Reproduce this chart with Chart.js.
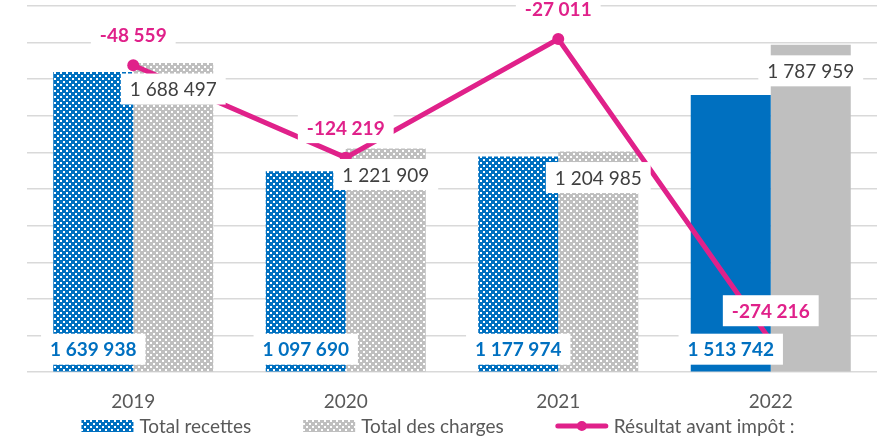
<!DOCTYPE html>
<html>
<head>
<meta charset="utf-8">
<script src="https://cdn.jsdelivr.net/npm/chart.js@4/dist/chart.umd.min.js"></script>
<style>
  html, body { margin: 0; padding: 0; background: #fff; }
  canvas { display: block; }
</style>
</head>
<body>
<canvas id="chart" width="884" height="441"></canvas>
<script>
const years = ['2019', '2020', '2021', '2022'];
const recettes = [1639938, 1097690, 1177974, 1513742];
const charges = [1688497, 1221909, 1204985, 1787959];
const resultat = [-48559, -124219, -27011, -274216];
const seriesNames = ['Total recettes', 'Total des charges', 'Résultat avant impôt :'];

const BLUE = '#0070C0';
const GRAY = '#BFBFBF';
const PINK = '#E0218A';
const TEXT = '#595959';
const FONT = 'Lato, "Open Sans", sans-serif';

// small dotted patterns like the Excel fills
function makePattern(color) {
  const c = document.createElement('canvas');
  c.width = 6; c.height = 6;
  const g = c.getContext('2d');
  g.fillStyle = color;
  g.fillRect(0, 0, 6, 6);
  g.fillStyle = '#fff';
  g.fillRect(0, 0, 2, 2);
  g.fillRect(3, 3, 2, 2);
  return g.createPattern(c, 'repeat');
}
const bluePattern = makePattern(BLUE);
const grayPattern = makePattern(GRAY);

function fmt(v) {
  const s = String(Math.abs(v)).replace(/\B(?=(\d{3})+(?!\d))/g, ' ');
  return (v < 0 ? '-' : '') + s;
}

function labelBox(ctx, text, x, y, font, color) {
  ctx.font = font;
  const w = ctx.measureText(text).width;
  ctx.fillStyle = '#fff';
  ctx.fillRect(x - w / 2 - 9, y - 15.5, w + 18, 31);
  ctx.fillStyle = color;
  ctx.textAlign = 'center';
  ctx.textBaseline = 'middle';
  ctx.fillText(text, x, y + 1);
}

// value labels, drawn on top of bars and line
const valueLabels = {
  id: 'valueLabels',
  afterDatasetsDraw(chart) {
    const ctx = chart.ctx;
    const base = chart.scales.y.getPixelForValue(0);
    ctx.save();
    chart.getDatasetMeta(0).data.forEach((el, i) => {
      labelBox(ctx, fmt(recettes[i]), el.x, base - 23, 'bold 19px ' + FONT, BLUE);
    });
    chart.getDatasetMeta(1).data.forEach((el, i) => {
      labelBox(ctx, fmt(charges[i]), el.x, el.y + 26, '19px ' + FONT, '#404040');
    });
    chart.getDatasetMeta(2).data.forEach((el, i) => {
      labelBox(ctx, fmt(resultat[i]), el.x, el.y - 30, 'bold 19px ' + FONT, PINK);
    });
    ctx.restore();
  }
};

// legend at the bottom: patterned boxes and a line with a dot
const bottomLegend = {
  id: 'bottomLegend',
  afterDraw(chart) {
    const ctx = chart.ctx;
    ctx.save();
    ctx.font = '19px ' + FONT;
    const keyW = 52, gap = 6, space = 52;
    const widths = seriesNames.map(n => keyW + gap + ctx.measureText(n).width);
    const total = widths.reduce((a, b) => a + b, 0) + space * (widths.length - 1);
    let x = (chart.width - total) / 2 - 4;
    const y = 426;
    seriesNames.forEach((name, i) => {
      if (i === 0 || i === 1) {
        ctx.fillStyle = i === 0 ? bluePattern : grayPattern;
        ctx.fillRect(x, y - 6, keyW, 12);
      } else {
        ctx.strokeStyle = PINK;
        ctx.lineWidth = 5;
        ctx.lineCap = 'round';
        ctx.beginPath();
        ctx.moveTo(x + 2, y);
        ctx.lineTo(x + keyW - 2, y);
        ctx.stroke();
        ctx.fillStyle = PINK;
        ctx.beginPath();
        ctx.arc(x + keyW / 2, y, 5, 0, Math.PI * 2);
        ctx.fill();
      }
      ctx.fillStyle = TEXT;
      ctx.textAlign = 'left';
      ctx.textBaseline = 'middle';
      ctx.fillText(name, x + keyW + gap, y + 1);
      x += widths[i] + space;
    });
    ctx.restore();
  }
};

new Chart(document.getElementById('chart'), {
  type: 'bar',
  data: {
    labels: years,
    datasets: [
      {
        label: seriesNames[0],
        data: recettes,
        backgroundColor: [bluePattern, bluePattern, bluePattern, BLUE],
        order: 1,
        yAxisID: 'y'
      },
      {
        label: seriesNames[1],
        data: charges,
        backgroundColor: [grayPattern, grayPattern, grayPattern, GRAY],
        order: 1,
        yAxisID: 'y'
      },
      {
        type: 'line',
        label: seriesNames[2],
        data: resultat,
        borderColor: PINK,
        backgroundColor: PINK,
        borderWidth: 5,
        pointRadius: 6,
        pointBackgroundColor: PINK,
        pointBorderWidth: 0,
        tension: 0,
        order: 0,
        yAxisID: 'y1'
      }
    ]
  },
  options: {
    responsive: false,
    animation: false,
    devicePixelRatio: 1,
    layout: { padding: { left: 27, right: 7, top: 2, bottom: 10 } },
    datasets: {
      bar: { categoryPercentage: 0.753, barPercentage: 1.0 }
    },
    plugins: {
      legend: { display: false },
      tooltip: { enabled: false }
    },
    scales: {
      x: {
        grid: { display: false, drawTicks: false },
        border: { display: false },
        ticks: { color: TEXT, font: { family: FONT, size: 19 }, padding: 18 }
      },
      y: {
        min: 0,
        max: 2000000,
        ticks: { display: false, stepSize: 200000 },
        grid: { color: '#D9D9D9', lineWidth: 1.5, drawTicks: false },
        border: { display: false }
      },
      y1: {
        display: false,
        min: -300000,
        max: 0
      }
    }
  },
  plugins: [valueLabels, bottomLegend]
});
</script>
</body>
</html>
